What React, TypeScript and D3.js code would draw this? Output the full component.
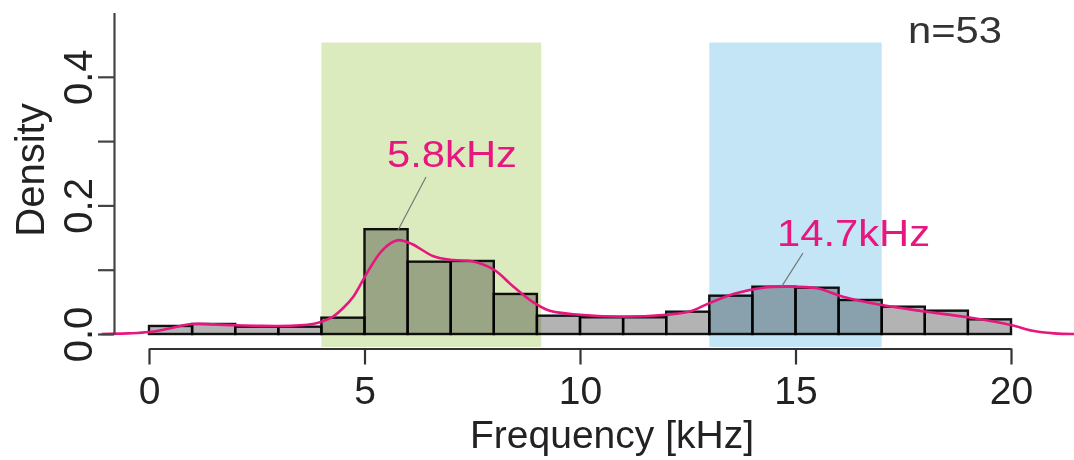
import React, {useEffect, useRef} from "react";
import * as d3 from "d3";

// histogram bins (1 kHz wide, 0..20 kHz) and their densities
const binStarts = [0, 1, 2, 3, 4, 5, 6, 7, 8, 9, 10, 11, 12, 13, 14, 15, 16, 17, 18, 19];
const binDensity = [0.0125, 0.0156, 0.0114, 0.0114, 0.0254, 0.163, 0.1125, 0.1136, 0.0623, 0.0285,
    0.026, 0.026, 0.0347, 0.0596, 0.0736, 0.072, 0.0529, 0.0425, 0.0363, 0.0228];

// kernel density estimate
const kdeFreq = [-1.1, -0.5, 0, 0.5, 1, 1.5, 2, 2.5, 3, 3.5, 3.8, 4, 4.27, 4.5, 4.74, 5.05, 5.36, 5.6, 5.8,
    6.1, 6.6, 7.06, 7.5, 8, 8.45, 8.9, 9.3, 10, 11, 12, 12.55, 13, 13.6, 14.25, 14.8, 15.5, 16.1, 17, 18, 19,
    20, 20.5, 21, 21.5];
const kdeDensity = [0, 0.001, 0.003, 0.009, 0.0155, 0.015, 0.0135, 0.0128, 0.0125, 0.0135, 0.0156, 0.019,
    0.027, 0.04, 0.058, 0.094, 0.126, 0.141, 0.146, 0.14, 0.121, 0.115, 0.113, 0.1, 0.074, 0.05, 0.036,
    0.03, 0.027, 0.03, 0.035, 0.048, 0.063, 0.072, 0.0737, 0.071, 0.058, 0.045, 0.035, 0.026, 0.014, 0.005,
    0.001, 0];

// shaded frequency bands
const bandStart = [4, 13];
const bandEnd = [9.1, 17];
const bandColor = ["#dcebbe", "#c3e5f5"];

// peak annotations
const peakFreq = [5.8, 14.7];
const peakLabel = ["5.8kHz", "14.7kHz"];

const xTicks = [0, 5, 10, 15, 20];
const yTicks = [0, 0.1, 0.2, 0.3, 0.4];
const yLabels = ["0.0", "", "0.2", "", "0.4"];
const sampleLabel = "n=53";

const W = 1074, H = 460;
const FONT = "'Liberation Sans', Arial, Helvetica, sans-serif";
const PINK = "#e6177f";

const App = () => {
    const ref = useRef<SVGSVGElement>(null);

    useEffect(() => {
        if (!ref.current) return;
        const svg = d3.select(ref.current);
        svg.selectAll("*").remove();

        const x = d3.scaleLinear().domain([0, 20]).range([149, 1011]);
        const y = d3.scaleLinear().domain([0, 0.5]).range([334, 12.5]);

        // bands behind the bars
        svg.append("g").selectAll("rect")
            .data(bandStart)
            .join("rect")
            .attr("x", (d) => x(d))
            .attr("y", 42.5)
            .attr("width", (d, i) => x(bandEnd[i]) - x(d))
            .attr("height", 347 - 42.5)
            .attr("fill", (d, i) => bandColor[i]);

        // bars, multiplied onto the bands
        svg.append("g").selectAll("rect")
            .data(binStarts)
            .join("rect")
            .attr("x", (d) => x(d))
            .attr("y", (d, i) => y(binDensity[i]))
            .attr("width", (d) => x(d + 1) - x(d))
            .attr("height", (d, i) => y(0) - y(binDensity[i]))
            .attr("fill", "#b3b3b3")
            .attr("stroke", "#111")
            .attr("stroke-width", 2.4)
            .style("mix-blend-mode", "multiply");

        // density curve
        const line = d3.line<number>()
            .x((d) => x(d))
            .y((d, i) => y(kdeDensity[i]))
            .curve(d3.curveCatmullRom);
        svg.append("path")
            .attr("d", line(kdeFreq))
            .attr("fill", "none")
            .attr("stroke", PINK)
            .attr("stroke-width", 2.6);

        // axes
        const xAxis = d3.axisBottom(x).tickValues(xTicks).tickSize(16).tickSizeOuter(0).tickPadding(10);
        const gx = svg.append("g")
            .attr("transform", "translate(0,348.5)")
            .call(xAxis);
        gx.selectAll("path, line").attr("stroke", "#333").attr("stroke-width", 2.2);
        gx.selectAll("text")
            .attr("y", 55.5).attr("dy", 0)
            .attr("fill", "#222")
            .style("font", `39px ${FONT}`);

        const yAxis = d3.axisLeft(y).tickValues(yTicks).tickSize(16).tickSizeOuter(0)
            .tickFormat((d, i) => yLabels[i]);
        const gy = svg.append("g")
            .attr("transform", "translate(114,0)")
            .call(yAxis);
        gy.selectAll("path, line").attr("stroke", "#444").attr("stroke-width", 2.2);
        gy.selectAll("text")
            .attr("transform", "rotate(-90)")
            .attr("x", 0).attr("y", -22).attr("dy", 0)
            .attr("text-anchor", "middle")
            .attr("fill", "#222")
            .style("font", `40px ${FONT}`);

        // axis titles
        svg.append("text")
            .attr("x", 612).attr("y", 448)
            .attr("text-anchor", "middle")
            .attr("fill", "#222")
            .style("font", `39px ${FONT}`)
            .text("Frequency [kHz]");
        svg.append("text")
            .attr("transform", "translate(44,170) rotate(-90)")
            .attr("text-anchor", "middle")
            .attr("fill", "#222")
            .style("font", `40px ${FONT}`)
            .text("Density");

        // peak leaders and labels
        const leadTop = [[426, 177], [803, 253]];
        svg.append("g").selectAll("line")
            .data(peakFreq)
            .join("line")
            .attr("x1", (d) => x(d) - 1)
            .attr("y1", (d, i) => y(binDensity[Math.floor(d)]) + (i === 0 ? 1 : 0))
            .attr("x2", (d, i) => leadTop[i][0])
            .attr("y2", (d, i) => leadTop[i][1])
            .attr("stroke", "#777")
            .attr("stroke-width", 1.2);

        const labelPos = [[387, 167], [777, 246]];
        svg.append("g").selectAll("text")
            .data(peakLabel)
            .join("text")
            .attr("transform", (d, i) => `translate(${labelPos[i][0]},${labelPos[i][1]}) scale(1.16,1)`)
            .attr("fill", PINK)
            .style("font", `36px ${FONT}`)
            .text((d) => d);

        svg.append("text")
            .attr("transform", "translate(908,43) scale(1.16,1)")
            .attr("fill", "#333")
            .style("font", `36px ${FONT}`)
            .text(sampleLabel);
    }, []);

    return (
        <svg ref={ref} width={W} height={H}
             style={{position: "absolute", left: 0, top: 0, background: "#fff"}}></svg>
    );
};

export default App;
